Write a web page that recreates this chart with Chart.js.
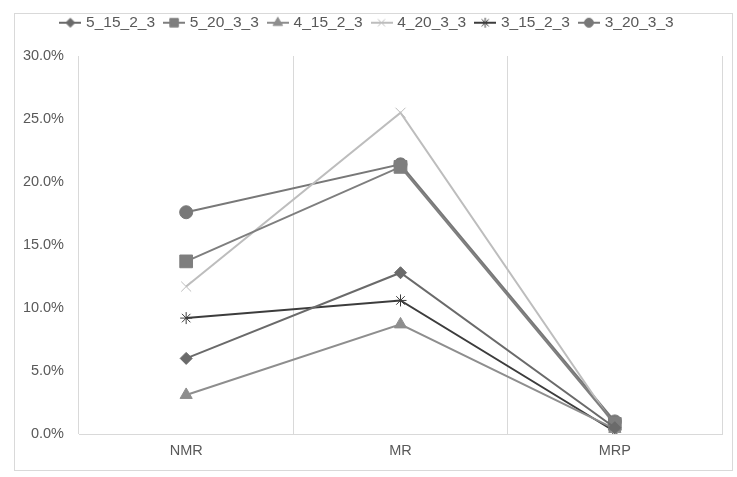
<!DOCTYPE html>
<html>
<head>
<meta charset="utf-8">
<script src="https://cdn.jsdelivr.net/npm/chart.js@4"></script>
<style>
  html, body { margin: 0; padding: 0; background: #fff; }
  #wrap { width: 737px; height: 477px; }
</style>
</head>
<body>
<div id="wrap"><canvas id="chart" width="737" height="477"></canvas></div>
<script>
// data
const categories = ["NMR", "MR", "MRP"];
const seriesNames = ["5_15_2_3", "5_20_3_3", "4_15_2_3", "4_20_3_3", "3_15_2_3", "3_20_3_3"];
const s5_15_2_3 = [0.060, 0.128, 0.005];
const s5_20_3_3 = [0.137, 0.212, 0.008];
const s4_15_2_3 = [0.031, 0.087, 0.004];
const s4_20_3_3 = [0.117, 0.255, 0.006];
const s3_15_2_3 = [0.092, 0.106, 0.002];
const s3_20_3_3 = [0.176, 0.214, 0.010];
const yTicks = [0, 0.05, 0.10, 0.15, 0.20, 0.25, 0.30];

const seriesValues = [s5_15_2_3, s5_20_3_3, s4_15_2_3, s4_20_3_3, s3_15_2_3, s3_20_3_3];
const colors  = ["#6a6a6a", "#7e7e7e", "#8e8e8e", "#bdbdbd", "#3c3c3c", "#787878"];
const markers = ["rectRot", "rect", "triangle", "crossRot", "star", "circle"];
const radii   = [6, 9, 7, 7, 6, 6.5];
const legendRadii = [4.5, 6, 5.5, 5, 5, 4.5];

const FONT = { family: "'Liberation Sans', Arial, sans-serif", size: 14.5 };
const TEXT = "#595959";
const GRID = "#d9d9d9";

// small line+marker images for the legend
function legendIcon(i) {
  const c = document.createElement("canvas");
  c.width = 22; c.height = 14;
  const g = c.getContext("2d");
  g.strokeStyle = colors[i];
  g.fillStyle = colors[i];
  g.lineWidth = 2;
  g.beginPath(); g.moveTo(0, 7); g.lineTo(22, 7); g.stroke();
  g.lineWidth = 1;
  Chart.helpers.drawPoint(g, {
    pointStyle: markers[i], radius: legendRadii[i], rotation: 0, borderWidth: 1
  }, 11, 7);
  return c;
}

const outerBorder = {
  id: "outerBorder",
  beforeDraw(chart) {
    const ctx = chart.ctx;
    ctx.save();
    ctx.fillStyle = "#fff";
    ctx.fillRect(0, 0, chart.width, chart.height);
    ctx.strokeStyle = GRID;
    ctx.lineWidth = 1;
    ctx.strokeRect(14.5, 13.5, 718, 457);
    ctx.restore();
  },
};

const legendHeight = {
  id: "legendHeight",
  beforeInit(chart) {
    const fit = chart.legend.fit;
    chart.legend.fit = function () {
      fit.call(this);
      this.height = 52;
    };
  },
};

new Chart(document.getElementById("chart"), {
  type: "line",
  data: {
    labels: categories,
    datasets: seriesNames.map((name, i) => ({
      label: name,
      data: seriesValues[i],
      borderColor: colors[i],
      backgroundColor: colors[i],
      borderWidth: 2,
      pointStyle: markers[i],
      pointRadius: radii[i],
      pointBorderWidth: 1,
      tension: 0,
      fill: false,
    })),
  },
  plugins: [outerBorder, legendHeight],
  options: {
    responsive: false,
    animation: false,
    layout: { padding: { left: 14, right: 15, top: 4, bottom: 0 } },
    plugins: {
      legend: {
        position: "top",
        labels: {
          color: TEXT,
          font: { family: FONT.family, size: 15.5 },
          padding: 11,
          usePointStyle: true,
          pointStyleWidth: 16,
          generateLabels(chart) {
            return chart.data.datasets.map((ds, i) => ({
              text: ds.label,
              fontColor: TEXT,
              pointStyle: legendIcon(i),
              datasetIndex: i,
              lineWidth: 0,
              strokeStyle: "transparent",
              fillStyle: "transparent",
            }));
          },
        },
      },
      tooltip: { enabled: false },
    },
    scales: {
      x: {
        offset: true,
        grid: { offset: true, color: GRID, drawTicks: false },
        border: { color: GRID },
        ticks: { color: TEXT, font: FONT, padding: 8 },
        afterFit: s => { s.height = 43; },
      },
      y: {
        min: 0,
        max: 0.30,
        afterBuildTicks: s => { s.ticks = yTicks.map(v => ({ value: v })); },
        grid: { display: false, drawTicks: false },
        border: { display: false },
        ticks: {
          color: TEXT,
          font: FONT,
          padding: 15,
          callback: v => (v * 100).toFixed(1) + "%",
        },
        afterFit: s => { s.width = 65; },
      },
    },
  },
});
</script>
</body>
</html>
